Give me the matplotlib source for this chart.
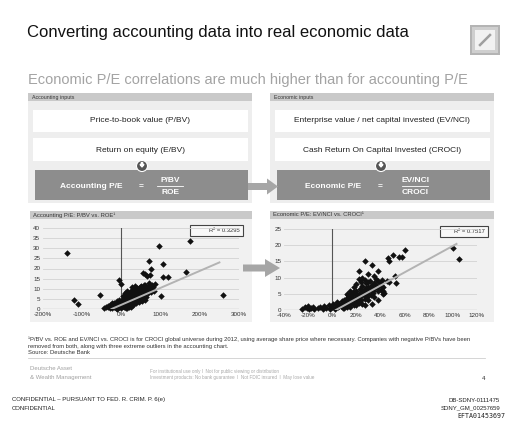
import matplotlib.pyplot as plt
from matplotlib.patches import Rectangle, FancyArrow, Circle
import numpy as np

plt.rcParams['font.family'] = ['Liberation Sans', 'DejaVu Sans']

# ---- data ----
# accounting chart: ROE (x) vs P/BV (y)
acc_roe = [-1.38, -1.20, -1.10, -0.55, -0.05, 0.00, 0.95, 1.75, 1.05, 1.05,
           1.20, 1.65, 2.60, 1.00, 0.70, 0.75, 0.72, 0.55, 0.60, 0.65,
           0.78, 0.80, 0.85, 0.70, 0.60, 0.50,
           -0.35, -0.33, -0.30, -0.28, -0.25, -0.24, -0.22, -0.20, -0.18, -0.17,
           -0.15, -0.14, -0.12, -0.10, -0.10, -0.08, -0.06, -0.05, -0.04, -0.02,
           0.00, 0.00, 0.02, 0.03, 0.04, 0.05, 0.06, 0.07, 0.08, 0.09,
           0.10, 0.10, 0.12, 0.13, 0.14, 0.15, 0.16, 0.17, 0.18, 0.19,
           0.20, 0.21, 0.22, 0.23, 0.24, 0.25, 0.26, 0.27, 0.28, 0.29,
           0.30, 0.30, 0.31, 0.32, 0.33, 0.34, 0.35, 0.36, 0.37, 0.38,
           0.40, 0.40, 0.41, 0.42, 0.44, 0.45, 0.46, 0.47, 0.48, 0.50,
           0.50, 0.52, 0.53, 0.54, 0.55, 0.56, 0.58, 0.60, 0.62, 0.65,
           0.68, 0.70, 0.72, 0.75, 0.78, 0.82, -0.45, -0.40, 0.15, 0.25,
           -0.30, -0.20, -0.10, 0.00, 0.05, 0.10, 0.12, 0.20, 0.20, 0.25,
           0.30, 0.35, 0.38, 0.42, 0.45, 0.50, 0.55, 0.58, 0.60, 0.65,
           0.05, 0.10, 0.15, 0.28, 0.35]
acc_pbv = [27.5, 4.2, 2.7, 7.0, 14.5, 12.5, 31.0, 33.5, 22.0, 16.0,
           15.8, 18.3, 7.0, 6.5, 23.5, 20.0, 17.0, 18.0, 17.3, 16.5,
           12.0, 11.0, 12.5, 13.0, 12.0, 11.5,
           1.5, 0.8, 2.2, 1.2, 0.5, 2.8, 1.8, 0.9, 3.2, 2.0,
           1.2, 0.4, 2.6, 3.8, 1.5, 0.7, 2.2, 4.5, 3.0, 1.0,
           0.4, 2.0, 3.5, 5.0, 1.5, 2.8, 0.8, 4.2, 6.0, 2.2,
           3.2, 1.2, 5.2, 7.0, 2.6, 4.0, 1.8, 6.2, 3.4, 8.0,
           5.0, 2.4, 6.8, 4.2, 9.0, 3.0, 5.8, 7.6, 4.6, 2.8,
           10.0, 6.4, 3.6, 8.4, 5.2, 4.0, 9.4, 7.0, 3.2, 5.8,
           10.5, 8.0, 4.4, 6.6, 3.6, 9.2, 5.4, 7.4, 11.0, 4.2,
           6.2, 8.6, 3.8, 10.2, 5.0, 7.0, 11.8, 9.0, 6.0, 10.5,
           8.0, 11.2, 9.5, 8.2, 10.0, 9.0, 0.3, 1.0, 0.5, 1.0,
           0.3, 2.5, 0.2, 3.0, 4.0, 5.0, 0.3, 7.5, 1.0, 8.0,
           2.0, 5.0, 10.0, 9.8, 6.5, 9.5, 8.0, 6.5, 4.5, 8.5,
           6.5, 7.8, 8.8, 10.8, 11.5]
acc_trend_x = [-0.25, 2.50]
acc_trend_y = [0.0, 23.0]
acc_r2 = "R² = 0.3295"

# economic chart: CROCI (x) vs EV/NCI (y)
eco_croci = [-0.25, -0.23, -0.21, -0.20, -0.19, -0.18, -0.16, -0.15,
             -0.12, -0.10, -0.08, -0.07, -0.05, -0.03, -0.02, 0.00, 0.01, 0.02, 0.03, 0.04,
             0.05, 0.06, 0.07, 0.08, 0.09, 0.10, 0.10, 0.11, 0.12, 0.12,
             0.13, 0.14, 0.14, 0.15, 0.16, 0.16, 0.17, 0.18, 0.18, 0.19,
             0.20, 0.20, 0.21, 0.22, 0.22, 0.23, 0.24, 0.24, 0.25, 0.25,
             0.26, 0.27, 0.27, 0.28, 0.28, 0.29, 0.30, 0.30, 0.31, 0.32,
             0.32, 0.33, 0.34, 0.35, 0.35, 0.36, 0.37, 0.38, 0.38, 0.40,
             0.40, 0.41, 0.42, 0.43, 0.20, 0.22, 0.25, 0.15, 0.18, 0.12,
             0.27, 0.33, 0.22, 0.38, 0.30, 0.35, 0.46, 0.47, 0.50, 0.55,
             0.58, 0.60, 0.52, 0.53, 0.47, 1.00, 1.05, 0.42, 0.33, 0.27,
             0.38, 0.45,
             0.06, 0.08, 0.10, 0.12, 0.14, 0.16, 0.18, 0.20, 0.20, 0.22,
             0.24, 0.26, 0.28, 0.30, 0.32, 0.34, 0.36, 0.38, 0.40, 0.42,
             0.30, 0.27, 0.24, 0.17, 0.13, 0.10, 0.15, 0.20, 0.25, 0.30,
             0.35]
eco_evnci = [0.4, 0.8, 0.5, 1.1, 0.3, 0.7, 1.0, 0.4,
             0.5, 1.0, 0.3, 1.3, 0.6, 1.6, 0.2, 1.0, 2.0, 0.4, 1.4, 2.4,
             0.8, 2.0, 1.2, 2.8, 0.6, 1.8, 3.2, 2.4, 1.0, 3.8,
             2.6, 4.2, 1.6, 3.2, 2.2, 4.8, 3.6, 1.4, 5.2, 2.8,
             4.0, 6.0, 3.2, 5.0, 2.2, 6.6, 4.2, 3.0, 5.6, 7.4,
             4.6, 3.4, 6.4, 8.2, 5.2, 4.0, 7.0, 5.8, 9.0, 6.2,
             4.6, 7.6, 5.4, 8.4, 6.6, 9.6, 7.2, 5.8, 8.8, 7.8,
             6.2, 9.4, 7.0, 5.2, 8.0, 9.5, 10.0, 6.0, 7.2, 5.0,
             15.2, 13.8, 12.0, 12.0, 11.2, 10.5, 16.0, 15.2, 17.0, 16.4,
             16.4, 18.5, 10.6, 8.2, 8.6, 19.2, 15.8, 4.8, 2.0, 1.4,
             3.0, 9.0,
             1.2, 1.6, 2.4, 2.0, 3.0, 3.6, 3.0, 3.2, 5.0, 4.0,
             5.4, 5.8, 6.8, 4.8, 7.0, 6.0, 7.8, 7.0, 8.4, 6.0,
             8.5, 9.2, 8.6, 5.6, 4.6, 0.5, 0.8, 1.5, 2.0, 3.0,
             4.0]
eco_trend_x = [0.03, 1.03]
eco_trend_y = [0.0, 20.4]
eco_r2 = "R² = 0.7517"

acc_xticks = [-2, -1, 0, 1, 2, 3]
eco_xticks = [-0.4, -0.2, 0, 0.2, 0.4, 0.6, 0.8, 1.0, 1.2]

# ---- figure in pixel coordinates ----
W, H = 512, 424
fig = plt.figure(figsize=(W / 100, H / 100), dpi=100)
bg = fig.add_axes([0, 0, 1, 1])
bg.set_xlim(0, W)
bg.set_ylim(H, 0)
bg.axis('off')


def box(x0, y0, x1, y1, color, z=1):
    bg.add_patch(Rectangle((x0, y0), x1 - x0, y1 - y0, facecolor=color,
                           edgecolor='none', zorder=z))


# title + logo
bg.text(27, 33, "Converting accounting data into real economic data",
        fontsize=12, va='center', color='#111111')
box(470, 25, 500, 55, '#b4b4b4')
box(472, 27, 498, 53, '#cfcfcf')
box(475, 30, 495, 50, '#f2f2f2')
bg.plot([480, 490], [45, 35], color='#a0a0a0', lw=1.8, zorder=2)

bg.text(28, 80, "Economic P/E correlations are much higher than for accounting P/E",
        fontsize=10.5, va='center', color='#a3a3a3')

# input panels
panels = [
    (28, 252, "Accounting inputs", "Price-to-book value (P/BV)", "Return on equity (E/BV)",
     "Accounting P/E", "P/BV", "ROE", 35, 91, 142, 170),
    (270, 494, "Economic inputs", "Enterprise value / net capital invested (EV/NCI)",
     "Cash Return On Capital Invested (CROCI)", "Economic P/E", "EV/NCI", "CROCI",
     277, 333, 381, 415),
]
for (x0, x1, head, l1, l2, name, num, den, dx0, nx, ex, fx) in panels:
    box(x0, 93, x1, 101, '#c9c9c9')
    bg.text(x0 + 4, 97, head, fontsize=3.8, va='center', color='#333333')
    box(x0, 101, x1, 203, '#eeeeee')
    box(x0 + 5, 110, x1 - 4, 132, 'white')
    box(x0 + 5, 138, x1 - 4, 161, 'white')
    bg.text((x0 + x1) / 2, 121, l1, fontsize=6, ha='center', va='center', color='#222222')
    bg.text((x0 + x1) / 2, 150, l2, fontsize=6, ha='center', va='center', color='#222222')
    box(dx0, 170, x1 - 4, 200, '#8d8d8d')
    bg.add_patch(Circle((ex, 166), 5.5, facecolor='#555555', edgecolor='white',
                        lw=0.8, zorder=3))
    bg.add_patch(FancyArrow(ex, 162.5, 0, 4.5, width=1.3, head_width=4, head_length=2.6,
                            color='white', zorder=4, length_includes_head=True))
    bg.text(nx, 186, name, fontsize=6, ha='center', va='center', color='white',
            fontweight='bold')
    bg.text(ex - 1, 186, "=", fontsize=6, ha='center', va='center', color='white',
            fontweight='bold')
    bg.text(fx, 180, num, fontsize=6, ha='center', va='center', color='white',
            fontweight='bold')
    bg.text(fx, 192.5, den, fontsize=6, ha='center', va='center', color='white',
            fontweight='bold')
    bg.plot([fx - 13, fx + 13], [186.3, 186.3], color='white', lw=0.6, zorder=3)

bg.add_patch(FancyArrow(248, 186.5, 30, 0, width=7, head_width=16, head_length=11,
                        color='#a6a6a6', zorder=5, length_includes_head=True, lw=0))

# chart panels
box(30, 211, 252, 219, '#c9c9c9')
bg.text(33, 215, "Accounting P/E: P/BV vs. ROE¹", fontsize=4.2, va='center', color='#333333')
box(30, 219, 252, 322, '#f1f1f1')
box(270, 211, 494, 219, '#c9c9c9')
bg.text(273, 215, "Economic P/E: EV/NCI vs. CROCI¹", fontsize=4.2, va='center', color='#333333')
box(270, 219, 494, 322, '#f1f1f1')

bg.add_patch(FancyArrow(243, 268, 37, 0, width=7, head_width=18, head_length=15,
                        color='#a6a6a6', zorder=5, length_includes_head=True, lw=0))


def scatter_axes(px0, px1, py0, py1, xs, ys, tx, ty, xlim, ylim, yticks, xticks):
    ax = fig.add_axes([px0 / W, 1 - py1 / H, (px1 - px0) / W, (py1 - py0) / H])
    ax.set_facecolor('none')
    ax.set_xlim(*xlim)
    ax.set_ylim(*ylim)
    for s in ax.spines.values():
        s.set_visible(False)
    for yv in yticks[1:]:
        ax.axhline(yv, color='#d2d2d2', lw=0.6, zorder=0)
    ax.axhline(0, color='#555555', lw=0.8, zorder=1)
    ax.plot([0, 0], [0, ylim[1]], color='#555555', lw=0.8, zorder=1)
    ax.scatter(xs, ys, marker='D', s=11, color='#111111', lw=0, zorder=3, clip_on=False)
    ax.plot(tx, ty, color='#b3b3b3', lw=1.4, zorder=4)
    ax.set_yticks(yticks)
    ax.set_xticks(xticks)
    ax.set_xticklabels([f"{round(v * 100)}%" for v in xticks])
    ax.tick_params(length=0, labelsize=4.5, colors='#333333', pad=2)
    return ax


scatter_axes(43, 239, 228, 309, acc_roe, acc_pbv, acc_trend_x, acc_trend_y,
             (-2, 3), (0, 40), list(range(0, 41, 5)), acc_xticks)
scatter_axes(284, 477, 229, 310, eco_croci, eco_evnci, eco_trend_x, eco_trend_y,
             (-0.4, 1.2), (0, 25), list(range(0, 26, 5)), eco_xticks)

for (x0, x1, y0, y1, label) in [(190, 243, 225, 236, acc_r2), (440, 488, 226, 237, eco_r2)]:
    bg.add_patch(Rectangle((x0, y0), x1 - x0, y1 - y0, facecolor='#f8f8f8',
                           edgecolor='#444444', lw=0.8, zorder=6))
    bg.text(x1 - 3, (y0 + y1) / 2, label, fontsize=4.2, ha='right', va='center',
            color='#333333', zorder=7)

# footnotes
foot = ("¹P/BV vs. ROE and EV/NCI vs. CROCI is for CROCI global universe during 2012, using average "
        "share price where necessary. Companies with negative P/BVs have been\n"
        "removed from both, along with three extreme outliers in the accounting chart.\n"
        "Source: Deutsche Bank")
bg.text(28, 337, foot, fontsize=4.2, va='top', color='#333333', linespacing=1.3)
bg.plot([28, 485], [358, 358], color='#cfcfcf', lw=0.6)
bg.text(30, 368, "Deutsche Asset", fontsize=4.3, va='center', color='#a0a0a0')
bg.text(30, 377, "& Wealth Management", fontsize=4.3, va='center', color='#a0a0a0')
bg.text(150, 372, "For institutional use only I  Not for public viewing or distribution",
        fontsize=3.3, va='center', color='#a8a8a8')
bg.text(150, 378, "Investment products: No bank guarantee  I  Not FDIC insured  I  May lose value",
        fontsize=3.3, va='center', color='#a8a8a8')
bg.text(484, 378, "4", fontsize=4.5, ha='center', va='center', color='#333333')

bg.text(12, 400, "CONFIDENTIAL – PURSUANT TO FED. R. CRIM. P. 6(e)", fontsize=4.3,
        va='center', color='#222222')
bg.text(12, 408, "CONFIDENTIAL", fontsize=4.3, va='center', color='#222222')
bg.text(500, 400, "DB-SDNY-0111475", fontsize=4.3, ha='right', va='center', color='#222222')
bg.text(500, 408, "SDNY_GM_00257659", fontsize=4.3, ha='right', va='center', color='#222222')
bg.text(505, 416, "EFTA01453697", fontsize=4.8, ha='right', va='center', color='#222222',
        family='DejaVu Sans Mono')

fig.savefig("out.png", dpi=100)
